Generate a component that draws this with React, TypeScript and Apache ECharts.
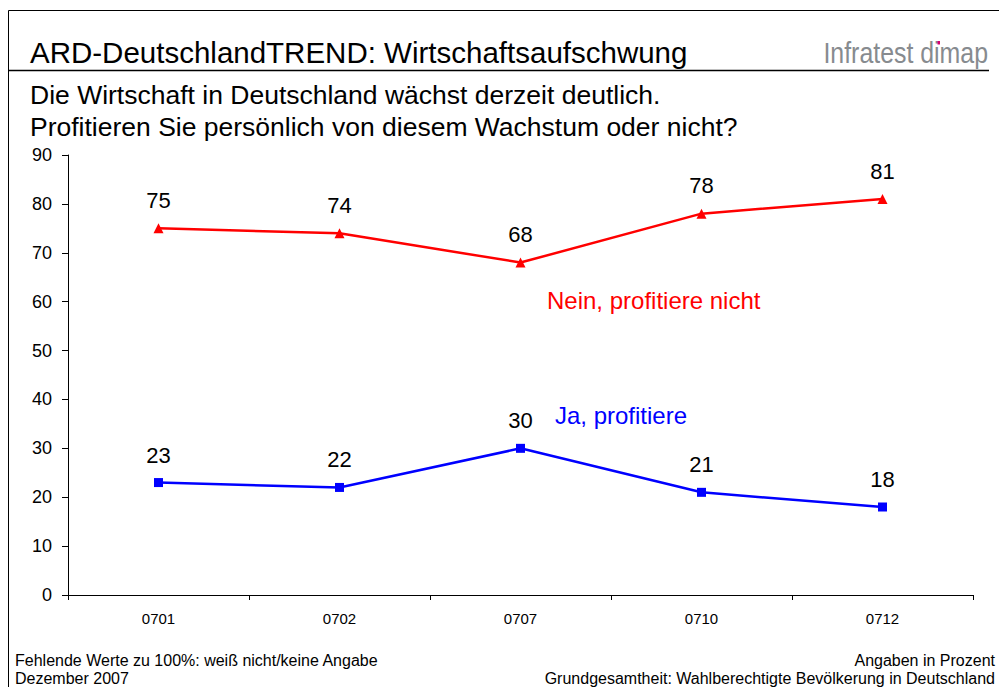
import React, { useEffect, useRef } from "react";
import * as echarts from "echarts";

const categories = ["0701", "0702", "0707", "0710", "0712"];
const neinValues = [75, 74, 68, 78, 81];
const jaValues = [23, 22, 30, 21, 18];
const yTicks = { min: 0, max: 90, interval: 10 };

const FONT = "'Liberation Sans', Arial, sans-serif";

export default function App() {
  const ref = useRef<HTMLDivElement>(null);
  useEffect(() => {
    if (!ref.current) return;
    const chart = echarts.init(ref.current, null, { renderer: "svg" });
    chart.setOption({
      animation: false,
      backgroundColor: "#ffffff",
      textStyle: { fontFamily: FONT },
      grid: { left: 68, right: 26, top: 155, bottom: 92, containLabel: false },
      xAxis: {
        type: "category",
        data: categories,
        boundaryGap: true,
        axisLine: { lineStyle: { color: "#000", width: 1 } },
        axisTick: { show: true, alignWithLabel: false, length: 5, lineStyle: { color: "#000" } },
        axisLabel: { color: "#000", fontSize: 15, fontFamily: FONT, margin: 16 },
        splitLine: { show: false },
      },
      yAxis: {
        type: "value",
        min: yTicks.min,
        max: yTicks.max,
        interval: yTicks.interval,
        axisLine: { show: true, lineStyle: { color: "#000", width: 1 } },
        axisTick: { show: true, length: 6, lineStyle: { color: "#000" } },
        axisLabel: { color: "#000", fontSize: 18, fontFamily: FONT, margin: 16 },
        splitLine: { show: false },
      },
      series: [
        {
          name: "Nein, profitiere nicht",
          type: "line",
          data: neinValues,
          color: "#ff0000",
          lineStyle: { color: "#ff0000", width: 2.5 },
          symbol: "triangle",
          symbolSize: 10,
          itemStyle: { color: "#ff0000" },
          label: { show: true, position: "top", distance: 12, color: "#000", fontSize: 22, fontFamily: FONT },
        },
        {
          name: "Ja, profitiere",
          type: "line",
          data: jaValues,
          color: "#0000ff",
          lineStyle: { color: "#0000ff", width: 2.5 },
          symbol: "rect",
          symbolSize: 9,
          itemStyle: { color: "#0000ff" },
          label: { show: true, position: "top", distance: 12, color: "#000", fontSize: 22, fontFamily: FONT },
        },
      ],
      graphic: [
        { type: "line", shape: { x1: 8.5, y1: 10.5, x2: 999, y2: 10.5 }, style: { stroke: "#000", lineWidth: 1 } },
        { type: "line", shape: { x1: 8.5, y1: 10.5, x2: 8.5, y2: 687 }, style: { stroke: "#000", lineWidth: 1 } },
        { type: "line", shape: { x1: 9, y1: 70.5, x2: 989, y2: 70.5 }, style: { stroke: "#000", lineWidth: 1.5 } },
        {
          type: "text", x: 30, y: 52,
          style: { text: "ARD-DeutschlandTREND: Wirtschaftsaufschwung", font: `29.5px ${FONT}`, fill: "#000", textVerticalAlign: "middle" },
        },
        {
          type: "text", x: 988, y: 53, scaleX: 0.83, scaleY: 1,
          style: { text: "Infratest dimap", font: `30px ${FONT}`, fill: "#878b8f", textAlign: "right", textVerticalAlign: "middle" },
        },
        { type: "rect", z: 200, shape: { x: 937.5, y: 41, width: 2.5, height: 3.5 }, style: { fill: "#d6006e" } },
        {
          type: "text", x: 30, y: 95,
          style: { text: "Die Wirtschaft in Deutschland wächst derzeit deutlich.", font: `26.5px ${FONT}`, fill: "#000", textVerticalAlign: "middle" },
        },
        {
          type: "text", x: 30, y: 127,
          style: { text: "Profitieren Sie persönlich von diesem Wachstum oder nicht?", font: `26.5px ${FONT}`, fill: "#000", textVerticalAlign: "middle" },
        },
        {
          type: "text", x: 547, y: 300,
          style: { text: "Nein, profitiere nicht", font: `24px ${FONT}`, fill: "#ff0000", textVerticalAlign: "middle" },
        },
        {
          type: "text", x: 555, y: 415,
          style: { text: "Ja, profitiere", font: `24px ${FONT}`, fill: "#0000ff", textVerticalAlign: "middle" },
        },
        {
          type: "text", x: 15, y: 660,
          style: { text: "Fehlende Werte zu 100%: weiß nicht/keine Angabe", font: `16px ${FONT}`, fill: "#000", textVerticalAlign: "middle" },
        },
        {
          type: "text", x: 15, y: 678,
          style: { text: "Dezember 2007", font: `16px ${FONT}`, fill: "#000", textVerticalAlign: "middle" },
        },
        {
          type: "text", x: 995, y: 660,
          style: { text: "Angaben in Prozent", font: `16px ${FONT}`, fill: "#000", textAlign: "right", textVerticalAlign: "middle" },
        },
        {
          type: "text", x: 995, y: 678,
          style: { text: "Grundgesamtheit: Wahlberechtigte Bevölkerung in Deutschland", font: `16px ${FONT}`, fill: "#000", textAlign: "right", textVerticalAlign: "middle" },
        },
      ],
    });
    return () => chart.dispose();
  }, []);
  return (
    <div style={{ position: "fixed", left: 0, top: 0, width: 999, height: 687, background: "#fff" }}>
      <div ref={ref} style={{ width: 999, height: 687 }} />
    </div>
  );
}
